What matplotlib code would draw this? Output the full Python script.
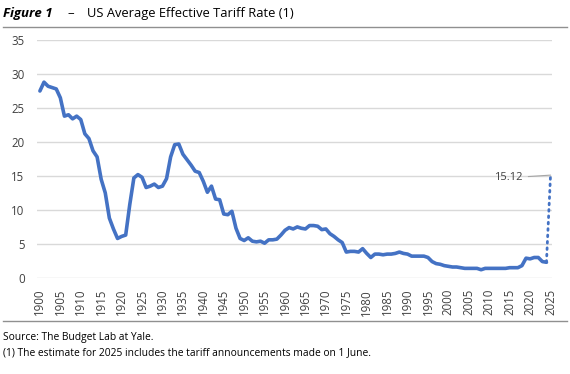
import matplotlib

matplotlib.use("Agg")

import matplotlib.pyplot as plt
import numpy as np
from matplotlib.lines import Line2D

# annual US average effective tariff rate, 1900-2024 (%)
years = np.arange(1900, 2025)
rates = [
    27.5, 28.8, 28.2, 28.0, 27.8, 26.5, 23.8, 24.0, 23.4, 23.8,
    23.3, 21.2, 20.5, 18.7, 17.8, 14.5, 12.5, 8.8, 7.2, 5.8,
    6.1, 6.3, 10.8, 14.7, 15.2, 14.8, 13.3, 13.5, 13.8, 13.3,
    13.5, 14.6, 17.8, 19.6, 19.7, 18.2, 17.4, 16.6, 15.7, 15.5,
    14.2, 12.6, 13.5, 11.6, 11.5, 9.4, 9.3, 9.8, 7.3, 5.8,
    5.5, 5.9, 5.4, 5.3, 5.4, 5.1, 5.6, 5.6, 5.7, 6.3,
    7.0, 7.4, 7.2, 7.5, 7.3, 7.2, 7.7, 7.7, 7.6, 7.1,
    7.2, 6.5, 6.1, 5.6, 5.2, 3.8, 3.9, 3.9, 3.8, 4.3,
    3.6, 3.0, 3.5, 3.5, 3.4, 3.5, 3.5, 3.6, 3.8, 3.6,
    3.5, 3.2, 3.2, 3.2, 3.2, 3.0, 2.4, 2.1, 2.0, 1.8,
    1.7, 1.6, 1.6, 1.5, 1.4, 1.4, 1.4, 1.4, 1.2, 1.4,
    1.4, 1.4, 1.4, 1.4, 1.4, 1.5, 1.5, 1.5, 1.8, 2.9,
    2.8, 3.0, 3.0, 2.4, 2.3,
]
estimate_year = 2025
estimate_rate = 15.12

title = "US Average Effective Tariff Rate (1)"
source = "Source: The Budget Lab at Yale."
note = "(1) The estimate for 2025 includes the tariff announcements made on 1 June."

plt.rcParams["font.family"] = ["Open Sans", "DejaVu Sans"]
BLUE = "#4472C4"
GREY_TEXT = "#404040"

fig = plt.figure(figsize=(5.7, 3.74), dpi=100)
ax = fig.add_axes([0.065, 0.257, 0.903, 0.636])

ax.plot(years, rates, color=BLUE, linewidth=2.6, solid_capstyle="round")
ax.plot([years[-1], estimate_year], [rates[-1], estimate_rate],
        color=BLUE, linewidth=2.0, linestyle=(0, (0.6, 1.7)),
        dash_capstyle="round")

ax.set_xlim(1899.3, 2025.3)
ax.set_ylim(0, 35)
ax.set_yticks(np.arange(0, 36, 5))
ax.set_xticks(np.arange(1900, 2026, 5))
ax.tick_params(axis="x", labelrotation=90, labelsize=8.3, colors=GREY_TEXT, length=0, pad=8)
ax.tick_params(axis="y", labelsize=8.3, colors=GREY_TEXT, length=0, pad=9)
ax.grid(axis="y", color="#d9d9d9", linewidth=1.0)
ax.set_axisbelow(True)
for spine in ax.spines.values():
    spine.set_visible(False)

ax.annotate(f"{estimate_rate:.2f}", xy=(estimate_year, estimate_rate),
            xytext=(2018.2, estimate_rate - 0.4), textcoords="data",
            ha="right", va="center", fontsize=8, color="#404040",
            arrowprops=dict(arrowstyle="-", color="#a6a6a6", linewidth=0.8,
                            shrinkA=2, shrinkB=0))

fig.text(0.006, 0.965, "Figure 1", fontsize=9.5, fontweight="bold",
         fontstyle="italic", va="center", ha="left")
fig.text(0.118, 0.965, "–", fontsize=9.5, va="center", ha="left")
fig.text(0.152, 0.965, title, fontsize=9.3, va="center", ha="left")
fig.add_artist(Line2D([0.006, 0.994], [0.928, 0.928], color="#909090", linewidth=1.0))
fig.add_artist(Line2D([0.006, 0.994], [0.142, 0.142], color="#909090", linewidth=1.0))
fig.text(0.006, 0.098, source, fontsize=7.4, va="center", ha="left")
fig.text(0.006, 0.058, note, fontsize=7.4, va="center", ha="left")

fig.savefig("out.png", dpi=100)
plt.close(fig)
